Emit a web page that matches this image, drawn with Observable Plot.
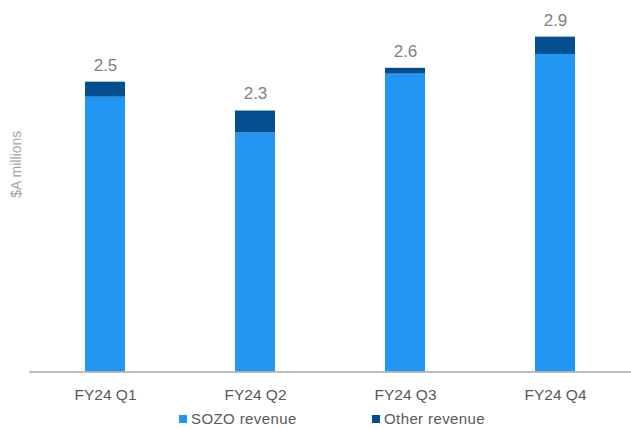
<!DOCTYPE html>
<html><head><meta charset="utf-8">
<script src="https://cdn.jsdelivr.net/npm/d3@7"></script>
<script src="https://cdn.jsdelivr.net/npm/@observablehq/plot@0.6"></script>
<style>
body{margin:0;background:#fff;font-family:"Liberation Sans",Arial,sans-serif;}
#legend{position:relative;height:23px;font-size:15px;color:#595959;line-height:17px;}
.item{position:absolute;top:5px;display:flex;align-items:center;letter-spacing:0.4px;}
.sw{width:8px;height:8px;margin-right:4px;}
</style></head>
<body><div id="chart"></div><div id="legend"></div>
<script>
const quarters = ["FY24 Q1","FY24 Q2","FY24 Q3","FY24 Q4"];
const sozo = [2.38, 2.07, 2.58, 2.75];
const other = [0.13, 0.19, 0.05, 0.15];
const totalLabels = ["2.5","2.3","2.6","2.9"];
const seriesNames = ["SOZO revenue","Other revenue"];
const colors = ["#2196f3","#034e8e"];

const rows = [];
quarters.forEach((q,i)=>{
  rows.push({q, s: seriesNames[0], v: sozo[i]});
  rows.push({q, s: seriesNames[1], v: other[i]});
});
const totals = quarters.map((q,i)=>({q, v: sozo[i]+other[i], t: totalLabels[i]}));

const plot = Plot.plot({
  width: 631, height: 405,
  marginLeft: 29, marginRight: 0, marginTop: 2, marginBottom: 33.5,
  style: {fontFamily: "Liberation Sans, Arial, sans-serif"},
  x: {domain: quarters, paddingInner: 0.734, paddingOuter: 0.367, label: null},
  y: {domain: [0, 3.2], axis: null},
  color: {domain: seriesNames, range: colors},
  marks: [
    Plot.barY(rows, {x: "q", y: "v", fill: "s", order: seriesNames}),
    Plot.ruleY([0], {stroke: "#a6a6a6", strokeWidth: 1.5}),
    Plot.axisX({tickSize: 0, tickPadding: 17, fontSize: 15.5, color: "#595959", label: null}),
    Plot.text(totals, {x: "q", y: "v", text: "t", dy: -17, fontSize: 17, fill: "#7f7f7f"}),
    Plot.text(["$A millions"], {frameAnchor: "left", textAnchor: "middle", dx: -13, dy: -23, rotate: -90, fontSize: 14, fill: "#a6a6a6"})
  ]
});
document.getElementById("chart").append(plot);

const leg = document.getElementById("legend");
const lx = [179, 372];
seriesNames.forEach((n,i)=>{
  const d = document.createElement("div");
  d.className = "item"; d.style.left = lx[i]+"px";
  d.innerHTML = `<span class="sw" style="background:${colors[i]}"></span><span>${n}</span>`;
  leg.append(d);
});
</script></body></html>
